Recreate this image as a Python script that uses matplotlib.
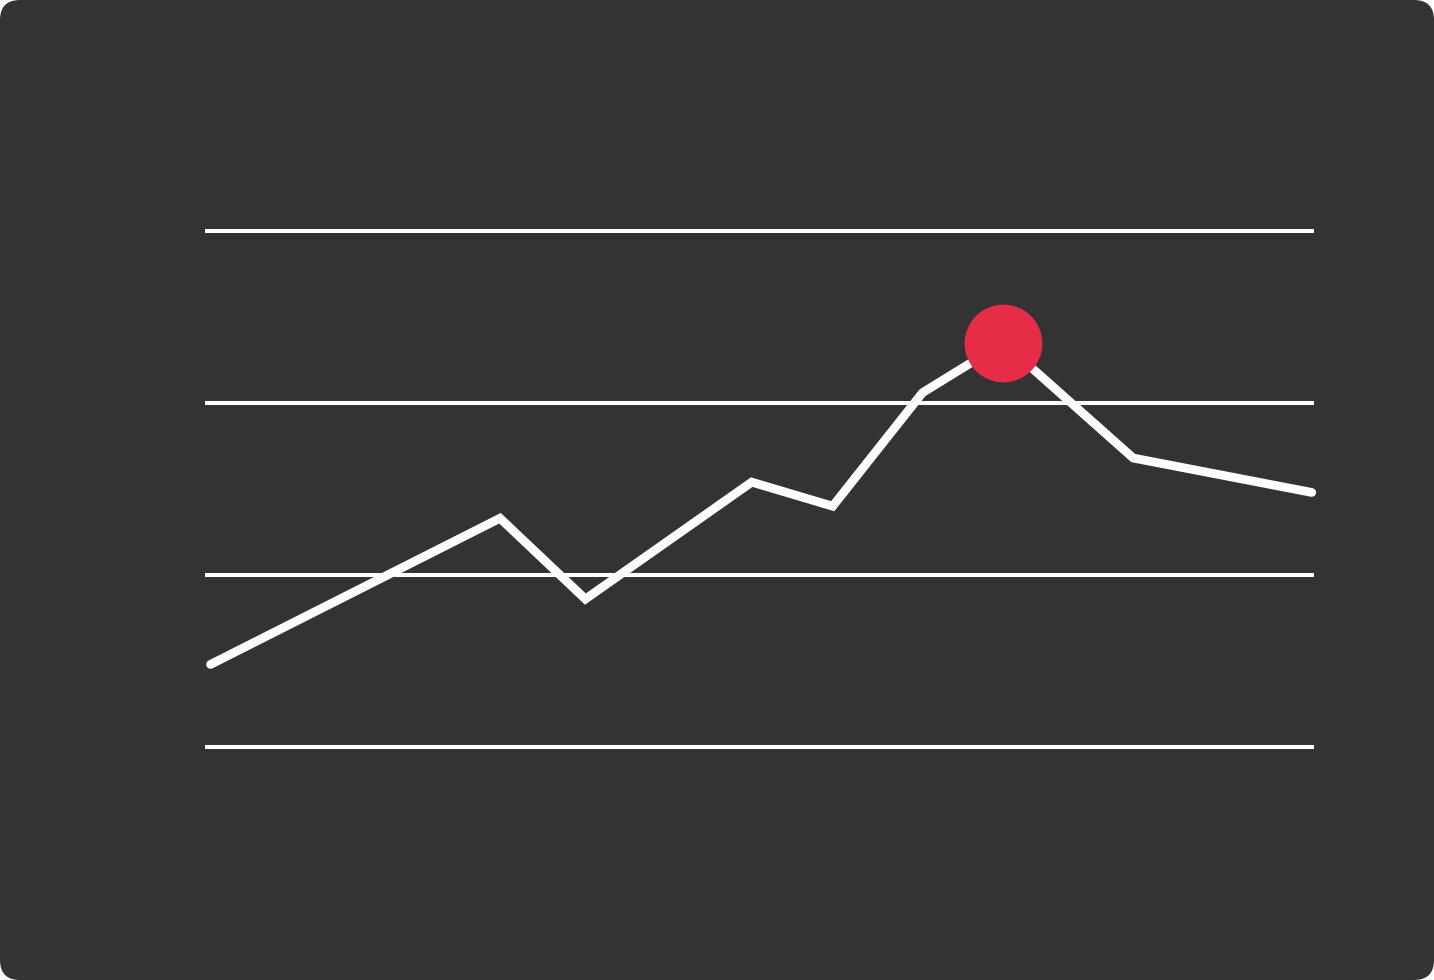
import matplotlib.pyplot as plt
from matplotlib.patches import FancyBboxPatch

# values (grid lines at 0, 10, 20, 30)
x_vals = [0.5, 26.6, 34.3, 49.3, 56.6, 64.7, 72.0, 83.7, 99.8]
y_vals = [4.8, 13.3, 8.6, 15.4, 14.0, 20.6, 23.5, 16.8, 14.8]
grid_levels = [0, 10, 20, 30]
peak_idx = 6

bg = '#333333'
red = '#e62c46'

fig = plt.figure(figsize=(14.34, 9.80), dpi=100)
fig.patch.set_facecolor('white')

# dark rounded card behind everything
card = FancyBboxPatch((0, 0), 14.34, 9.80, boxstyle='round,pad=0,rounding_size=0.2',
                      transform=fig.dpi_scale_trans, facecolor=bg, edgecolor='none',
                      zorder=-10)
fig.add_artist(card)

ax = fig.add_axes([0, 0, 1, 1])
ax.set_facecolor('none')
ax.axis('off')
ax.set_xlim(-205 / 11.09, (1434 - 205) / 11.09)
ax.set_ylim((747 - 980) / 17.2, 747 / 17.2)

ax.hlines(grid_levels, 0, 100, colors='white', linewidth=2.9, zorder=1)
ax.plot(x_vals, y_vals, color='white', linewidth=6.3, solid_capstyle='round',
        solid_joinstyle='miter', zorder=2)
ax.plot(x_vals[peak_idx], y_vals[peak_idx], 'o', color=red, markersize=56,
        markeredgewidth=0, zorder=3)

fig.savefig('out.png', dpi=100)
